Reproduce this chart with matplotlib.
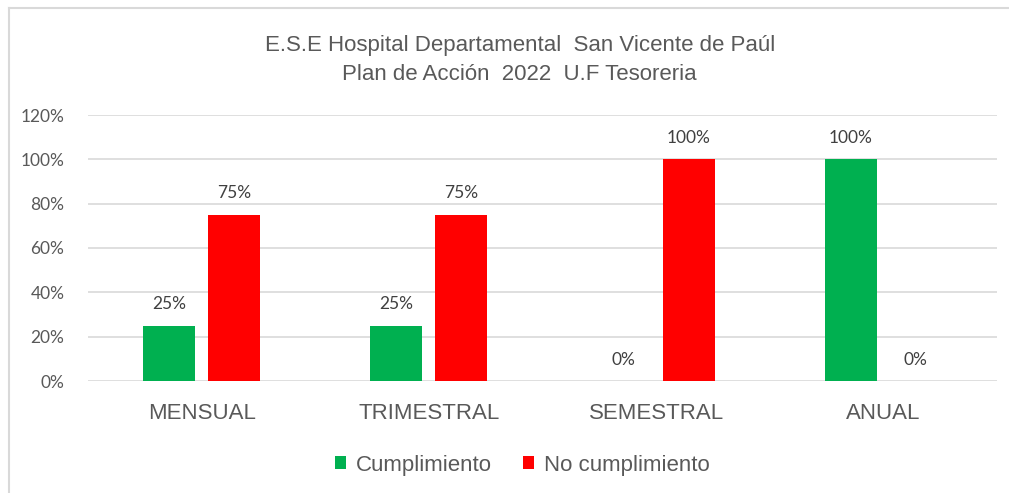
import numpy as np
import matplotlib.pyplot as plt
from matplotlib.lines import Line2D

categories = ["MENSUAL", "TRIMESTRAL", "SEMESTRAL", "ANUAL"]
cumplimiento = [0.25, 0.25, 0.0, 1.0]
no_cumplimiento = [0.75, 0.75, 1.0, 0.0]
yticks = [0, 0.2, 0.4, 0.6, 0.8, 1.0, 1.2]

green = "#00b050"
red = "#ff0000"
text_gray = "#595959"
narrow = ["Liberation Sans", "DejaVu Sans"]
label_font = ["Lato", "DejaVu Sans"]

fig = plt.figure(figsize=(10.09, 4.93), dpi=100)

# chart frame (only left and top edges are visible in the crop)
fig.add_artist(Line2D([9 / 1009, 9 / 1009], [0, 1 - 8 / 493], transform=fig.transFigure,
                      color="#d9d9d9", linewidth=1.5))
fig.add_artist(Line2D([9 / 1009, 1], [1 - 8 / 493, 1 - 8 / 493], transform=fig.transFigure,
                      color="#d9d9d9", linewidth=1.5))

ax = fig.add_axes([88 / 1009, 1 - 381 / 493, (997 - 88) / 1009, (381 - 115) / 493])

x = np.arange(len(categories))
w = 0.229
off = 0.143
b1 = ax.bar(x - off, cumplimiento, w, color=green, label="Cumplimiento")
b2 = ax.bar(x + off, no_cumplimiento, w, color=red, label="No cumplimiento")

for bars, vals in [(b1, cumplimiento), (b2, no_cumplimiento)]:
    for rect, v in zip(bars, vals):
        ax.text(rect.get_x() + rect.get_width() / 2, v + 0.06, f"{v:.0%}",
                ha="center", va="bottom", fontsize=12.5, color="#404040",
                family=label_font)

ax.set_xlim(-0.5, len(categories) - 0.5)
ax.set_ylim(0, 1.2)
ax.set_yticks(yticks)
ax.set_yticklabels([f"{t:.0%}" for t in yticks], family=label_font, fontsize=12.5,
                   color=text_gray)
ax.set_xticks(x)
ax.set_xticklabels(categories, family=narrow, fontsize=16, color=text_gray)
ax.tick_params(axis="both", length=0)
ax.tick_params(axis="y", pad=17)
ax.tick_params(axis="x", pad=16)
ax.grid(axis="y", color="#d9d9d9", linewidth=1.2)
ax.set_axisbelow(True)
for s in ax.spines.values():
    s.set_visible(False)

fig.text(0.515, 1 - 45 / 493, "E.S.E Hospital Departamental  San Vicente de Paúl",
         ha="center", va="center", fontsize=16, color=text_gray, family=narrow)
fig.text(0.515, 1 - 75 / 493, "Plan de Acción  2022  U.F Tesoreria",
         ha="center", va="center", fontsize=16, color=text_gray, family=narrow)

fig.legend(handles=[b1, b2], loc="center", bbox_to_anchor=(0.518, 1 - 465 / 493),
           ncol=2, frameon=False, prop={"family": narrow, "size": 16},
           labelcolor=text_gray, handlelength=0.5, handleheight=0.5,
           handletextpad=0.45, columnspacing=1.4)

fig.savefig("out.png", dpi=100)
